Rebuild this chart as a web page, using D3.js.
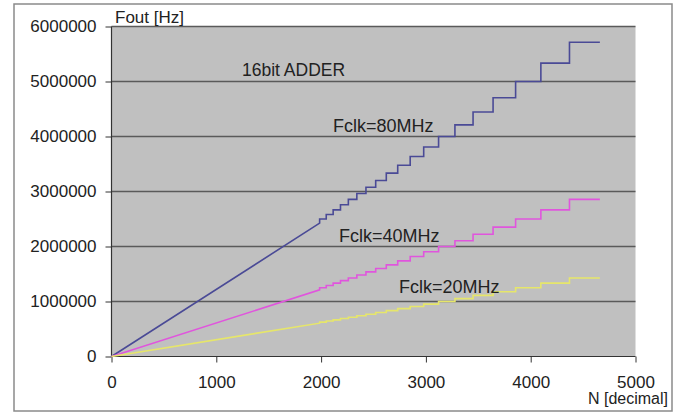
<!DOCTYPE html>
<html>
<head>
<meta charset="utf-8">
<script src="https://cdn.jsdelivr.net/npm/d3@7"></script>
<style>
  body { margin: 0; background: #fff; }
  text { font-family: "Liberation Sans", Arial, sans-serif; fill: #222; }
</style>
</head>
<body>
<div id="chart"></div>
<script>
// N values where each step starts
const stepN = [1986, 2049, 2115, 2185, 2260, 2341, 2428, 2521, 2622, 2731, 2850, 2979,
  3121, 3277, 3450, 3641, 3856, 4097, 4370];
const endN = 4660;

// Fout level reached by the straight ramp just before the first step [Hz]
const rampEnd = [2424242, 1212121, 606061];

// Fout levels per step [Hz]
const fout80 = [2500000, 2580645, 2666667, 2758621, 2857143, 2962963, 3076923, 3200000,
  3333333, 3478261, 3636364, 3809524, 4000000, 4210526, 4444444, 4705882, 5000000,
  5333333, 5714286];
const fout40 = [1250000, 1290323, 1333333, 1379310, 1428571, 1481481, 1538462, 1600000,
  1666667, 1739130, 1818182, 1904762, 2000000, 2105263, 2222222, 2352941, 2500000,
  2666667, 2857143];
const fout20 = [625000, 645161, 666667, 689655, 714286, 740741, 769231, 800000,
  833333, 869565, 909091, 952381, 1000000, 1052632, 1111111, 1176471, 1250000,
  1333333, 1428571];

const seriesNames = ["Fclk=80MHz", "Fclk=40MHz", "Fclk=20MHz"];
const seriesColors = ["#4a4a96", "#e055dd", "#e6e66a"];

const xTicks = [0, 1000, 2000, 3000, 4000, 5000];
const yTicks = [0, 1000000, 2000000, 3000000, 4000000, 5000000, 6000000];

const width = 682, height = 414;
const plot = { left: 111.5, right: 635.5, top: 26.5, bottom: 356.5 };

const svg = d3.select("#chart").append("svg")
  .attr("width", width)
  .attr("height", height);

// outer frame
svg.append("rect")
  .attr("x", 14).attr("y", 4)
  .attr("width", 658).attr("height", 407)
  .attr("fill", "#fff")
  .attr("stroke", "#8a8a8a")
  .attr("stroke-width", 1.5);

const x = d3.scaleLinear().domain([0, 5000]).range([plot.left, plot.right]);
const y = d3.scaleLinear().domain([0, 6000000]).range([plot.bottom, plot.top]);

svg.append("rect")
  .attr("x", plot.left).attr("y", plot.top)
  .attr("width", plot.right - plot.left)
  .attr("height", plot.bottom - plot.top)
  .attr("fill", "#c0c0c0");

// gridlines
svg.selectAll(".grid")
  .data(yTicks.slice(1))
  .join("line")
  .attr("class", "grid")
  .attr("x1", plot.left).attr("x2", plot.right)
  .attr("y1", d => y(d)).attr("y2", d => y(d))
  .attr("stroke", "#5a5a5a")
  .attr("stroke-width", 1.6);

// axes
const yAxis = svg.append("g")
  .attr("transform", `translate(${plot.left},0)`)
  .call(d3.axisLeft(y).tickValues(yTicks).tickFormat(d3.format("d")).tickSize(6).tickPadding(9));
const xAxis = svg.append("g")
  .attr("transform", `translate(0,${plot.bottom})`)
  .call(d3.axisBottom(x).tickValues(xTicks).tickFormat(d3.format("d")).tickSize(6).tickPadding(13));

[yAxis, xAxis].forEach(a => {
  a.select(".domain").attr("stroke", "#333").attr("stroke-width", 1.2);
  a.selectAll(".tick line").attr("stroke", "#333");
  a.selectAll(".tick text")
    .attr("font-family", "Liberation Sans, Arial, sans-serif")
    .attr("font-size", 17)
    .attr("fill", "#222");
});
xAxis.select(".domain").attr("d", `M${plot.left},0H${plot.right}`);
yAxis.select(".domain").attr("d", `M0,${plot.bottom}V${plot.top}`);

// step lines: straight ramp from origin up to the first step, then steps
function stepPoints(levels, ramp) {
  const pts = [[0, 0], [stepN[0], ramp], [stepN[0], levels[0]]];
  for (let i = 1; i < stepN.length; i++) {
    pts.push([stepN[i], levels[i - 1]]);
    pts.push([stepN[i], levels[i]]);
  }
  pts.push([endN, levels[levels.length - 1]]);
  return pts;
}

const line = d3.line()
  .x(d => x(d[0]))
  .y(d => y(d[1]));

const seriesData = [fout80, fout40, fout20];

svg.selectAll(".series")
  .data(seriesData)
  .join("path")
  .attr("class", "series")
  .attr("d", (d, i) => line(stepPoints(d, rampEnd[i])))
  .attr("fill", "none")
  .attr("stroke", (_, i) => seriesColors[i])
  .attr("stroke-width", 1.6);

// annotations
svg.append("text").attr("x", 115).attr("y", 23).attr("font-size", 17).text("Fout [Hz]");
svg.append("text").attr("x", 668).attr("y", 404).attr("font-size", 16)
  .attr("text-anchor", "end").text("N [decimal]");
svg.append("text").attr("x", 242).attr("y", 76).attr("font-size", 17.5).text("16bit ADDER");

const labelPos = [[333, 132], [339, 242], [399, 293]];
svg.selectAll(".slabel")
  .data(seriesNames)
  .join("text")
  .attr("class", "slabel")
  .attr("x", (_, i) => labelPos[i][0])
  .attr("y", (_, i) => labelPos[i][1])
  .attr("font-size", 18)
  .text(d => d);
</script>
</body>
</html>
